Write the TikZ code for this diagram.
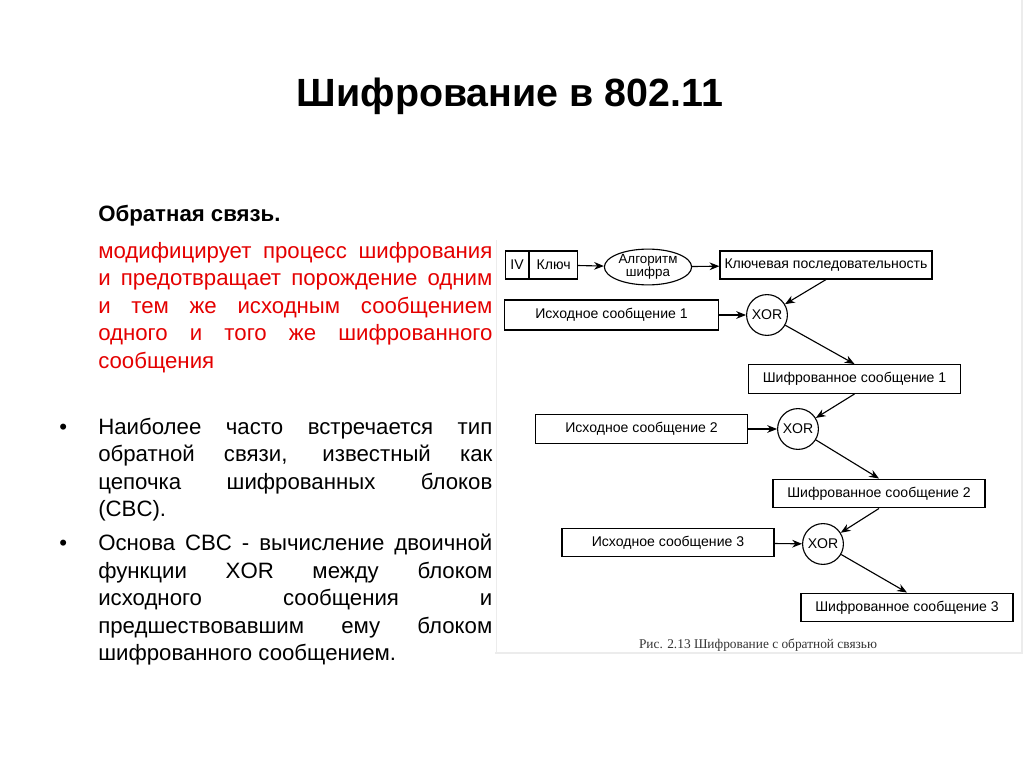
\documentclass[tikz,border=0pt]{standalone}
\usepackage{fontspec}
\setmainfont{Liberation Sans}
\newfontfamily\capfont{Liberation Serif}
\usetikzlibrary{shapes.geometric,positioning,arrows.meta}

\definecolor{txtred}{RGB}{228,0,0}
\definecolor{framegray}{RGB}{236,236,236}

\begin{document}
\begin{tikzpicture}[
  x=0.025cm,y=-0.025cm,
  msgbox/.style={rectangle,draw,line width=0.8pt,minimum width=5.3cm,minimum height=0.72cm,
                 font=\fontsize{10}{11}\selectfont,inner sep=2pt},
  xorbox/.style={circle,draw,line width=0.8pt,minimum size=1.02cm,inner sep=0pt,
                 font=\fontsize{10}{11}\selectfont},
  algbox/.style={ellipse,draw,line width=0.8pt,minimum width=2.18cm,minimum height=0.88cm,
                 inner sep=0pt,font=\fontsize{9.5}{9.5}\selectfont,align=center},
  arr/.style={-{Stealth[length=7pt,width=5.5pt]},line width=0.8pt},
  bodytext/.style={anchor=north west,inner sep=0pt,text width=9.85cm,align=justify,
                   font=\fontsize{15.8}{19.6}\selectfont},
  title/.style={font=\fontsize{28}{32}\selectfont\bfseries},
]
\useasboundingbox (0,0) rectangle (1024,767);

% Frame of the figure
\draw[framegray,line width=1pt] (1022,0) -- (1022,653) -- (495,653);
\draw[framegray,line width=0.6pt] (496,240) -- (496,653);

% Title
\node[title,anchor=base] (title) at (510,107) {Шифрование в 802.11};

% Left column
\node[anchor=base west,inner sep=0pt,font=\fontsize{15.8}{19.6}\selectfont\bfseries] (head) at (98,222)
  {Обратная связь.};
\node[bodytext,text=txtred] (redtext) at (98,238.5)
  {\hyphenpenalty=10000\strut модифицирует процесс шифрования\linebreak
   и предотвращает порождение одним\linebreak
   и тем же исходным сообщением\linebreak
   одного и того же шифрованного\linebreak
   сообщения};

\node[bodytext] (itemA) at (98,414.5)
  {\hyphenpenalty=10000\strut Наиболее часто встречается тип\linebreak
   обратной связи, известный как\linebreak
   цепочка шифрованных блоков\linebreak
   (CBC).};
\node[bodytext] (itemB) at (98,531)
  {\hyphenpenalty=10000\strut Основа CBC - вычисление двоичной\linebreak
   функции XOR между блоком\linebreak
   исходного сообщения и\linebreak
   предшествовавшим ему блоком\linebreak
   шифрованного сообщением.};
\node[anchor=base west,inner sep=0pt,font=\fontsize{15.8}{19.6}\selectfont] (dotA) at (59,434) {•};
\node[anchor=base west,inner sep=0pt,font=\fontsize{15.8}{19.6}\selectfont] (dotB) at (59,550.5) {•};

% Key stream
\node[msgbox,minimum width=0.575cm,minimum height=0.7cm] (iv) at (517,265) {IV};
\node[msgbox,minimum width=1.2cm,minimum height=0.7cm,right=0pt of iv] (key) {Ключ};
\node[algbox] (alg) at (648,267) {Алгоритм\\шифра};
\node[msgbox,minimum height=0.7cm] (ks) at (826,265) {Ключевая последовательность};

\draw[arr] (key) -- (alg);
\draw[arr] (alg) -- (ks);

% Block 1
\node[xorbox] (xorA) at (767,315) {XOR};
\node[msgbox,minimum width=5.33cm,minimum height=0.75cm] (plainA) at (611.5,315) {Исходное сообщение 1};
\node[msgbox] (cipherA) at (854.5,379) {Шифрованное сообщение 1};

\draw[arr] (ks.south) -- (xorA);
\draw[arr] (plainA) -- (xorA);
\draw[arr] (xorA) -- (cipherA.north);

% Block 2
\node[xorbox] (xorB) at (798,429) {XOR};
\node[msgbox] (plainB) at (641.5,429) {Исходное сообщение 2};
\node[msgbox] (cipherB) at (879,493.5) {Шифрованное сообщение 2};

\draw[arr] (cipherA.south) -- (xorB);
\draw[arr] (plainB) -- (xorB);
\draw[arr] (xorB) -- (cipherB.north);

% Block 3
\node[xorbox] (xorC) at (823,544) {XOR};
\node[msgbox] (plainC) at (668,542.5) {Исходное сообщение 3};
\node[msgbox] (cipherC) at (907,607.5) {Шифрованное сообщение 3};

\draw[arr] (cipherB.south) -- (xorC);
\draw[arr] (plainC) -- (xorC);
\draw[arr] (xorC) -- (cipherC.north);

% Caption
\node[font=\capfont\fontsize{9.5}{11}\selectfont,text=black!80] (caption) at (758,645)
  {Рис. 2.13 Шифрование с обратной связью};

\end{tikzpicture}
\end{document}
